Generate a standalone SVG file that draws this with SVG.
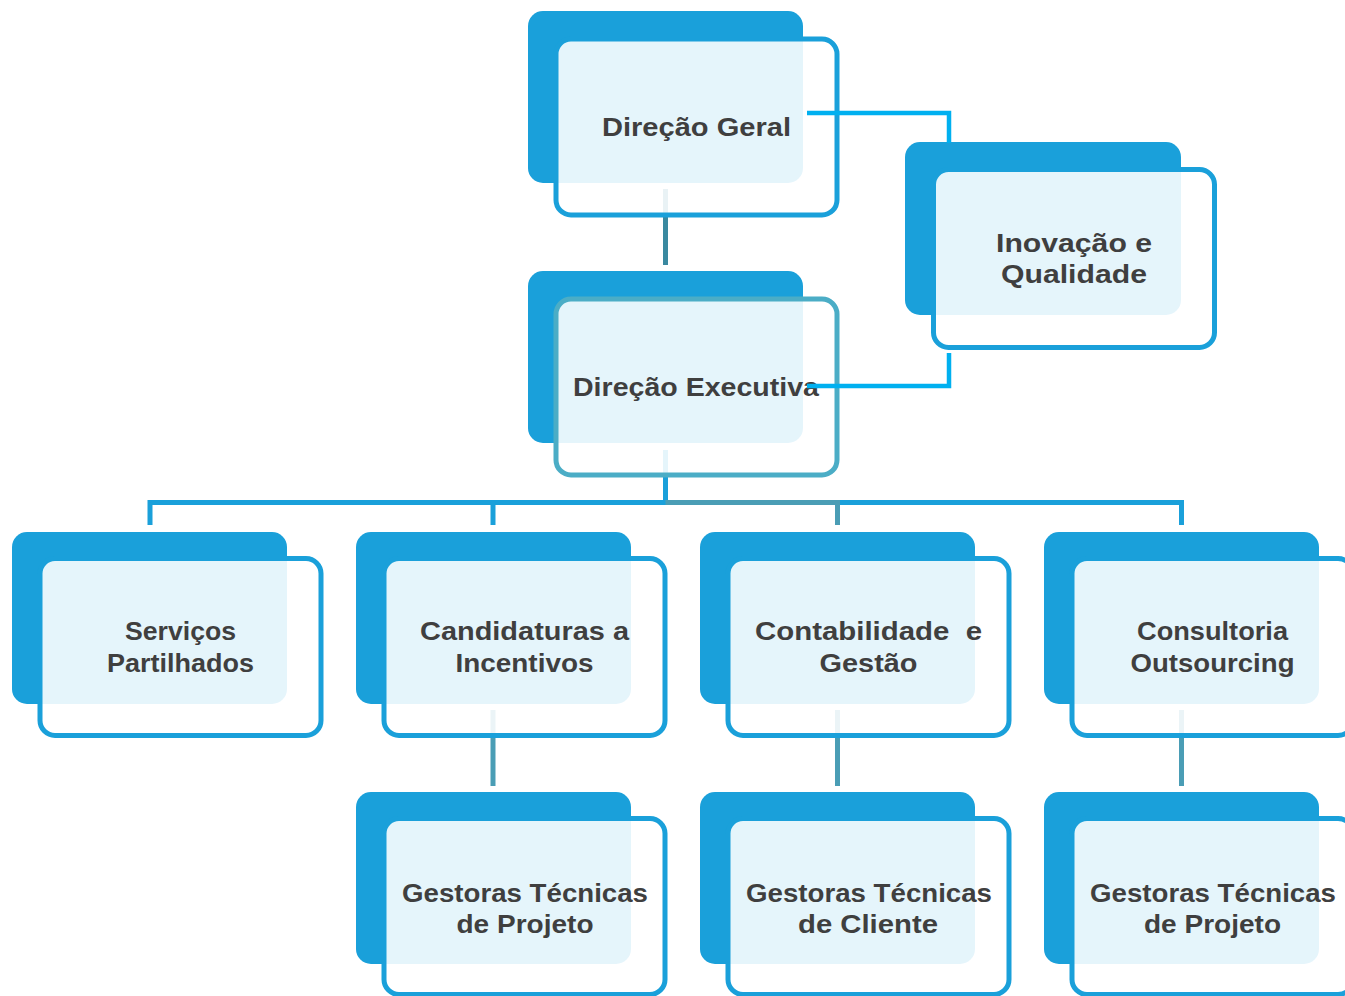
<svg xmlns="http://www.w3.org/2000/svg" width="1345" height="996" viewBox="0 0 1345 996">
<style>
.back{fill:#1AA0DA;}
.front{fill:#FFFFFF;fill-opacity:0.89;stroke:#1AA0DA;stroke-width:5;}
.front.teal{stroke:#4BADC6;}
.lbl{font-family:"Liberation Sans",Arial,sans-serif;font-weight:700;font-size:26px;fill:#3F3F3F;text-anchor:middle;}
.c{fill:none;stroke-width:5;stroke-linejoin:miter;}
.cb{stroke:#1AA0DA;}
.ct{stroke:#4A9DB5;}
.cd{stroke:#3A89A0;}
.cc{stroke:#00B0F0;stroke-width:4.5;}
</style>
<rect width="1345" height="996" fill="#FFFFFF"/>
<g id="connectors">
<path class="c cd" d="M665.5,189 V265"/>
<path class="c cb" d="M665.5,450 V502.5"/>
<path class="c cb" d="M150,525 V502.5 H1181.5 V525"/>
<path class="c cb" d="M493,502.5 V525"/>
<path class="c ct" d="M665.5,502.5 H837.5 V525"/>
<path class="c ct" d="M493,710 V786"/>
<path class="c ct" d="M837.5,710 V786"/>
<path class="c ct" d="M1181.5,710 V786"/>
</g>
<g id="node-direcao-geral">
<rect class="back" x="528" y="11" width="275" height="172" rx="15"/>
<rect class="front" x="556" y="39" width="281" height="176" rx="15"/>
<text class="lbl" x="696.5" y="136" textLength="189" lengthAdjust="spacingAndGlyphs">Direção Geral</text>
</g>
<g id="node-inovacao">
<rect class="back" x="905" y="142" width="276" height="173" rx="15"/>
<rect class="front" x="933.5" y="169.5" width="281" height="178" rx="15"/>
<text class="lbl" x="1074" y="252" textLength="156" lengthAdjust="spacingAndGlyphs">Inovação e</text>
<text class="lbl" x="1074" y="283" textLength="146" lengthAdjust="spacingAndGlyphs">Qualidade</text>
</g>
<g id="node-direcao-executiva">
<rect class="back" x="528" y="271" width="275" height="172" rx="15"/>
<rect class="front teal" x="556" y="299" width="281" height="176" rx="15"/>
<text class="lbl" x="696" y="396" textLength="246" lengthAdjust="spacingAndGlyphs">Direção Executiva</text>
</g>
<g id="node-servicos">
<rect class="back" x="12" y="532" width="275" height="172" rx="15"/>
<rect class="front" x="40" y="558.5" width="281" height="177" rx="15"/>
<text class="lbl" x="180.5" y="640" textLength="111" lengthAdjust="spacingAndGlyphs">Serviços</text>
<text class="lbl" x="180.5" y="672" textLength="147" lengthAdjust="spacingAndGlyphs">Partilhados</text>
</g>
<g id="node-candidaturas">
<rect class="back" x="356" y="532" width="275" height="172" rx="15"/>
<rect class="front" x="384" y="558.5" width="281" height="177" rx="15"/>
<text class="lbl" x="524.5" y="640" textLength="209" lengthAdjust="spacingAndGlyphs">Candidaturas a</text>
<text class="lbl" x="524.5" y="672" textLength="138" lengthAdjust="spacingAndGlyphs">Incentivos</text>
</g>
<g id="node-contabilidade">
<rect class="back" x="700" y="532" width="275" height="172" rx="15"/>
<rect class="front" x="728" y="558.5" width="281" height="177" rx="15"/>
<text class="lbl" x="868.5" y="640" textLength="227" lengthAdjust="spacingAndGlyphs">Contabilidade&#160; e</text>
<text class="lbl" x="868.5" y="672" textLength="98" lengthAdjust="spacingAndGlyphs">Gestão</text>
</g>
<g id="node-consultoria">
<rect class="back" x="1044" y="532" width="275" height="172" rx="15"/>
<rect class="front" x="1072" y="558.5" width="281" height="177" rx="15"/>
<text class="lbl" x="1212.5" y="640" textLength="151" lengthAdjust="spacingAndGlyphs">Consultoria</text>
<text class="lbl" x="1212.5" y="672" textLength="164" lengthAdjust="spacingAndGlyphs">Outsourcing</text>
</g>
<g id="node-gestoras-projeto-1">
<rect class="back" x="356" y="792" width="275" height="172" rx="15"/>
<rect class="front" x="384" y="818.5" width="281" height="176" rx="15"/>
<text class="lbl" x="525" y="902" textLength="246" lengthAdjust="spacingAndGlyphs">Gestoras Técnicas</text>
<text class="lbl" x="525" y="933" textLength="137" lengthAdjust="spacingAndGlyphs">de Projeto</text>
</g>
<g id="node-gestoras-cliente">
<rect class="back" x="700" y="792" width="275" height="172" rx="15"/>
<rect class="front" x="728" y="818.5" width="281" height="176" rx="15"/>
<text class="lbl" x="869" y="902" textLength="246" lengthAdjust="spacingAndGlyphs">Gestoras Técnicas</text>
<text class="lbl" x="868" y="933" textLength="140" lengthAdjust="spacingAndGlyphs">de Cliente</text>
</g>
<g id="node-gestoras-projeto-2">
<rect class="back" x="1044" y="792" width="275" height="172" rx="15"/>
<rect class="front" x="1072" y="818.5" width="281" height="176" rx="15"/>
<text class="lbl" x="1213" y="902" textLength="246" lengthAdjust="spacingAndGlyphs">Gestoras Técnicas</text>
<text class="lbl" x="1212.5" y="933" textLength="137" lengthAdjust="spacingAndGlyphs">de Projeto</text>
</g>
<g id="connectors-overlay">
<path class="c cc" d="M807,113 H949 V143"/>
<path class="c cc" d="M807,386 H949 V353"/>
</g>
</svg>
